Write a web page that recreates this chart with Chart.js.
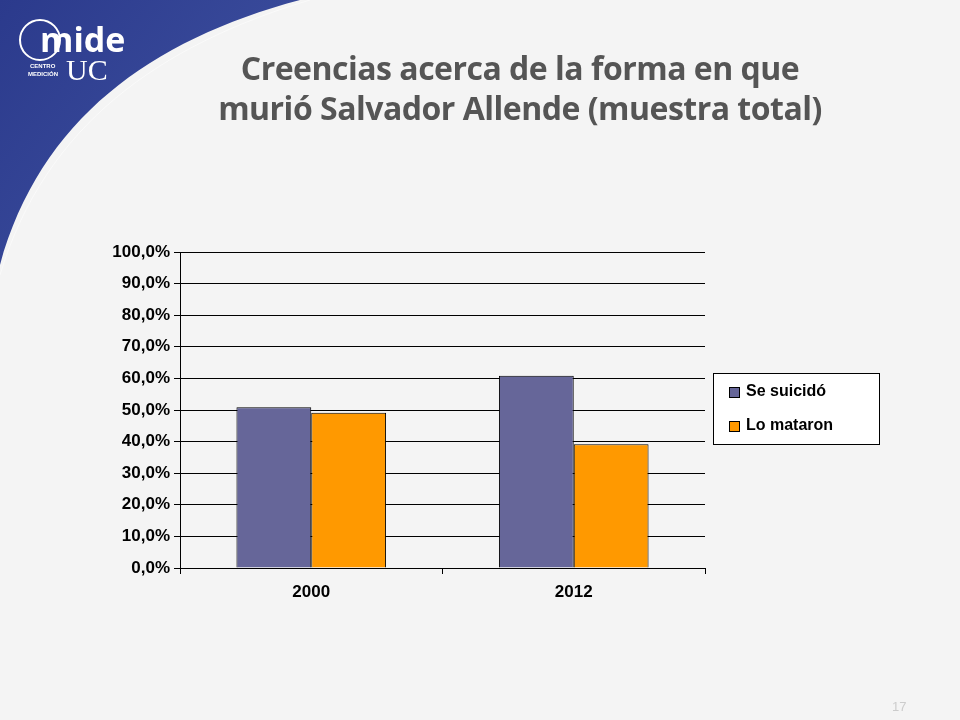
<!DOCTYPE html>
<html>
<head>
<meta charset="utf-8">
<script src="https://cdn.jsdelivr.net/npm/chart.js@4"></script>
<style>
  body { margin: 0; background: #f4f4f4; }
  #wrap { position: relative; width: 960px; height: 720px; }
  #title {
    position: absolute; left: 180px; top: 48px; width: 680px;
    text-align: center; font: bold 32px "Open Sans", sans-serif;
    color: #555555; line-height: 40px; letter-spacing: -0.5px;
  }
</style>
</head>
<body>
<div id="wrap">
  <canvas id="chart" width="960" height="720"></canvas>
  <div id="title">Creencias acerca de la forma en que<br>murió Salvador Allende (muestra total)</div>
</div>
<script>
// ===== DATA =====
const years = ["2000", "2012"];
const suicido = [50.9, 60.8];
const mataron = [49.1, 39.2];
const seriesNames = ["Se suicidó", "Lo mataron"];
const seriesColors = ["#666699", "#FF9900"];

// ===== BACKGROUND + LOGO + LEGEND =====
const slidePlugin = {
  id: "slide",
  beforeDraw(chart) {
    const ctx = chart.ctx;
    ctx.save();
    ctx.fillStyle = "#f4f4f4";
    ctx.fillRect(0, 0, 960, 720);
    const g = ctx.createLinearGradient(0, 0, 250, 200);
    g.addColorStop(0, "#2b3a8c");
    g.addColorStop(1, "#3d4f9f");
    ctx.fillStyle = g;
    ctx.beginPath();
    ctx.moveTo(0, 0);
    ctx.lineTo(300, 0);
    ctx.bezierCurveTo(150, 40, 40, 120, 0, 265);
    ctx.closePath();
    ctx.fill();
    ctx.strokeStyle = "rgba(255,255,255,0.5)";
    ctx.lineWidth = 1;
    ctx.beginPath();
    ctx.moveTo(310, 0);
    ctx.bezierCurveTo(160, 45, 45, 125, 0, 275);
    ctx.stroke();
    // logo
    ctx.fillStyle = "#ffffff";
    ctx.font = "bold 34px 'Open Sans', sans-serif";
    ctx.fillText("mide", 40, 52);
    ctx.font = "30px 'Liberation Serif', serif";
    ctx.fillText("UC", 66, 80);
    ctx.font = "bold 6px sans-serif";
    ctx.fillText("CENTRO", 30, 68);
    ctx.fillText("MEDICIÓN", 28, 76);
    ctx.beginPath();
    ctx.arc(40, 40, 20, 0, Math.PI * 2);
    ctx.strokeStyle = "#ffffff";
    ctx.lineWidth = 2;
    ctx.stroke();
    ctx.fillStyle = "#cccccc";
    ctx.font = "13px sans-serif";
    ctx.fillText("17", 892, 711);
    ctx.restore();
  },
  afterDraw(chart) {
    const ctx = chart.ctx;
    ctx.save();
    ctx.fillStyle = "#ffffff";
    ctx.fillRect(713, 373, 166, 71);
    ctx.strokeStyle = "#000";
    ctx.lineWidth = 1;
    ctx.strokeRect(713.5, 373.5, 166, 71);
    ctx.font = "bold 16px 'Liberation Sans', Arial, sans-serif";
    ctx.textBaseline = "middle";
    chart.data.datasets.forEach((ds, i) => {
      const y = 392 + i * 34;
      ctx.fillStyle = ds.backgroundColor;
      ctx.fillRect(729, y - 5, 10, 10);
      ctx.strokeRect(729.5, y - 4.5, 10, 10);
      ctx.fillStyle = "#000";
      ctx.fillText(ds.label, 746, y);
    });
    ctx.restore();
  }
};

new Chart(document.getElementById("chart"), {
  type: "bar",
  data: {
    labels: years,
    datasets: [
      { label: seriesNames[0], data: suicido, backgroundColor: seriesColors[0], borderColor: "#000", borderWidth: 1 },
      { label: seriesNames[1], data: mataron, backgroundColor: seriesColors[1], borderColor: "#000", borderWidth: 1 }
    ]
  },
  options: {
    responsive: false,
    animation: false,
    layout: { padding: { left: 100, right: 255, top: 252, bottom: 92 } },
    plugins: { legend: { display: false }, tooltip: { enabled: false } },
    datasets: { bar: { categoryPercentage: 0.57, barPercentage: 1 } },
    scales: {
      x: {
        afterFit: s => { s.height = 60; },
        grid: { offset: true, drawOnChartArea: false, color: "#000", tickLength: 6 },
        border: { color: "#000" },
        ticks: { color: "#000", font: { family: "'Liberation Sans', Arial", size: 17, weight: "bold" }, padding: 8 }
      },
      y: {
        min: 0, max: 100,
        afterFit: s => { s.width = 80; },
        grid: { color: "#000", tickLength: 6 },
        border: { color: "#000" },
        ticks: {
          stepSize: 10, color: "#000", padding: 4,
          font: { family: "'Liberation Sans', Arial", size: 17, weight: "bold" },
          callback: v => v.toFixed(1).replace(".", ",") + "%"
        }
      }
    }
  },
  plugins: [slidePlugin]
});
</script>
</body>
</html>
